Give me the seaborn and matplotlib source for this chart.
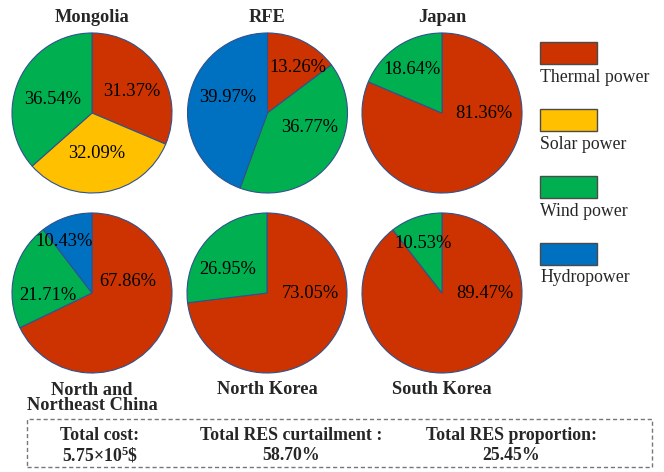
import matplotlib
matplotlib.use("Agg")
import matplotlib.pyplot as plt
from matplotlib.patches import Rectangle
import seaborn as sns

# ---------------- data ----------------
regions = ["Mongolia", "RFE", "Japan", "North and\nNortheast China", "North Korea", "South Korea"]
sources = ["Thermal power", "Solar power", "Wind power", "Hydropower"]
thermal = [31.37, 13.26, 81.36, 67.86, 73.05, 89.47]
solar = [32.09, 0, 0, 0, 0, 0]
wind = [36.54, 36.77, 18.64, 21.71, 26.95, 10.53]
hydro = [0, 39.97, 0, 10.43, 0, 0]

summary_titles = ["Total cost:", "Total RES curtailment :", "Total RES proportion:"]
summary_values = [r"5.75×10$^{5}$\$", "58.70%", "25.45%"]

# ---------------- style ----------------
sns.set_theme(style="white")
plt.rcParams["font.family"] = ["Liberation Serif", "DejaVu Serif"]
plt.rcParams["mathtext.fontset"] = "custom"
plt.rcParams["mathtext.rm"] = "Liberation Serif:bold"
plt.rcParams["mathtext.bf"] = "Liberation Serif:bold"
plt.rcParams["mathtext.it"] = "Liberation Serif:bold"

colors = dict(zip(sources, sns.color_palette(["#CC3300", "#FFC000", "#00B050", "#0070C0"])))
edge = "#2F528F"

W, H = 664, 472
R = 80  # pie radius in px
centers = [(92, 113), (267.5, 113), (442, 113), (92, 293), (267, 293), (442, 293)]
# label offsets from pie centre (px, y downwards), one per non-zero wedge
label_offsets = [
    [(40, -22), (5, 41), (-39, -14)],
    [(30, -45), (42.5, 15), (-39.5, -16)],
    [(42, 0), (-30, -43)],
    [(36, -12), (-44, 2), (-28, -51)],
    [(43, 0), (-39, -24)],
    [(43, 0), (-19, -50)],
]
title_pos = [(92, 17), (267, 17), (442, 17), (92, 398), (267, 390), (442, 390)]

fig = plt.figure(figsize=(W / 100, H / 100), dpi=100)
fig.patch.set_facecolor("white")

S = 1.1 * R  # half-size of axes in px
for i, region in enumerate(regions):
    cx, cy = centers[i]
    ax = fig.add_axes([(cx - S) / W, (H - cy - S) / H, 2 * S / W, 2 * S / H])
    vals, cols = [], []
    for src, arr in zip(sources, [thermal, solar, wind, hydro]):
        if arr[i] > 0:
            vals.append(arr[i])
            cols.append(colors[src])
    ax.pie(vals, colors=cols, startangle=90, counterclock=False, radius=1,
           wedgeprops=dict(edgecolor=edge, linewidth=0.8))
    ax.set_xlim(-1.1, 1.1)
    ax.set_ylim(-1.1, 1.1)
    ax.set_aspect("equal")
    ax.axis("off")
    for v, (dx, dy) in zip(vals, label_offsets[i]):
        ax.text(dx / R, -dy / R, f"{v:.2f}%", ha="center", va="center",
                fontsize=13.3, color="black")
    tx, ty = title_pos[i]
    fig.text(tx / W, 1 - ty / H, region, ha="center", va="center",
             fontsize=13.2, fontweight="bold", linespacing=0.92)

# ---------------- legend ----------------
leg_top = [42, 109, 176, 243]
for src, top in zip(sources, leg_top):
    fig.add_artist(Rectangle((540 / W, 1 - (top + 22) / H), 57 / W, 22 / H,
                             transform=fig.transFigure, facecolor=colors[src],
                             edgecolor="#4a4a4a", linewidth=1.0))
    fig.text(540 / W, 1 - (top + 35) / H, src, ha="left", va="center", fontsize=12.8)

# ---------------- summary box ----------------
fig.add_artist(Rectangle((27 / W, 1 - 467 / H), (652 - 27) / W, (467 - 419) / H,
                         transform=fig.transFigure, facecolor="none",
                         edgecolor="#777777", linewidth=1.0, linestyle=(0, (3, 2))))
sum_x = [100, 291, 511]
for x, t, v in zip(sum_x, summary_titles, summary_values):
    fig.text(x / W, 1 - 436 / H, t, ha="center", va="center", fontsize=12.8, fontweight="bold")
    fig.text(x / W, 1 - 455 / H, v, ha="center", va="center", fontsize=12.8, fontweight="bold")

fig.savefig("out.png", dpi=100, facecolor="white")
